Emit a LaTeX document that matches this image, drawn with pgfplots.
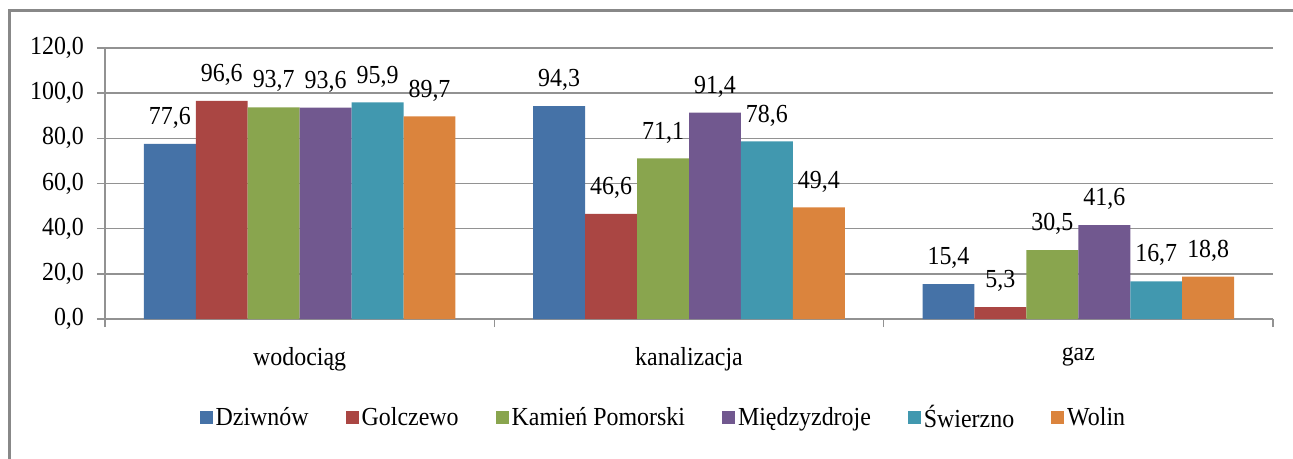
\documentclass[border=0pt]{standalone}
\usepackage{fontspec}
\setmainfont[FakeStretch=0.92]{Liberation Serif}
\usepackage{pgfplots}
\pgfplotsset{compat=1.18}
\definecolor{cA}{HTML}{4572A7}
\definecolor{cB}{HTML}{AA4643}
\definecolor{cC}{HTML}{89A54E}
\definecolor{cD}{HTML}{71588F}
\definecolor{cE}{HTML}{4198AF}
\definecolor{cF}{HTML}{DB843D}
\definecolor{gridc}{HTML}{929292}
\definecolor{framec}{HTML}{888888}
\begin{document}
\begin{tikzpicture}[x=1pt,y=1pt]
\useasboundingbox (0,0) rectangle (646.5,-229.5);
\draw[color=framec, line width=1.5pt] (4.5,-240) -- (4.5,-5.2) -- (660,-5.2);
\begin{axis}[
  at={(52.5pt,-159.5pt)}, anchor=south west,
  scale only axis, width=584pt, height=135.5pt,
  xmin=-0.5, xmax=2.5, ymin=0, ymax=120,
  ybar=0pt, bar width=0.1334,
  font=\fontsize{13}{15}\selectfont,
  /pgf/number format/.cd, use comma, fixed, fixed zerofill, precision=1, assume math mode=true,
  /pgfplots/.cd,
  axis x line=bottom, axis y line=left,
  axis line style={-, gridc, line width=0.8pt},
  xtick={0,1,2}, xticklabels={wodociąg, kanalizacja, gaz},
  minor xtick={-0.5,0.5,1.5,2.5},
  major x tick style={draw=none},
  minor x tick style={gridc, line width=0.8pt},
  minor tick length=4pt, major tick length=4pt,
  tick align=outside,
  ytick={0,20,...,120},
  y tick style={gridc, line width=0.8pt},
  ymajorgrids, grid style={gridc, line width=0.8pt},
  yticklabel style={xshift=-3pt},
  xticklabel style={yshift=-6.5pt},
  nodes near coords,
  every node near coord/.append style={anchor=center, yshift=13pt, font=\fontsize{13}{15}\selectfont},
  legend style={at={(0.4785,-0.3653)}, anchor=center, draw=none, legend columns=6,
    font=\fontsize{13}{15}\selectfont, nodes={inner sep=1.5pt},
    /tikz/every even column/.append style={column sep=17pt}},
  legend cell align=left,
  legend image code/.code={\fill[#1] (0pt,-3.25pt) rectangle (6.5pt,3.25pt);},
]
\addplot[fill=cA, draw=none] coordinates {(0,77.6) (1,94.3) (2,15.4)};
\addplot[fill=cB, draw=none] coordinates {(0,96.6) (1,46.6) (2,5.3)};
\addplot[fill=cC, draw=none] coordinates {(0,93.7) (1,71.1) (2,30.5)};
\addplot[fill=cD, draw=none] coordinates {(0,93.6) (1,91.4) (2,41.6)};
\addplot[fill=cE, draw=none] coordinates {(0,95.9) (1,78.6) (2,16.7)};
\addplot[fill=cF, draw=none] coordinates {(0,89.7) (1,49.4) (2,18.8)};
\legend{Dziwnów, Golczewo, Kamień Pomorski, Międzyzdroje, Świerzno, Wolin}
\end{axis}
\end{tikzpicture}
\end{document}
